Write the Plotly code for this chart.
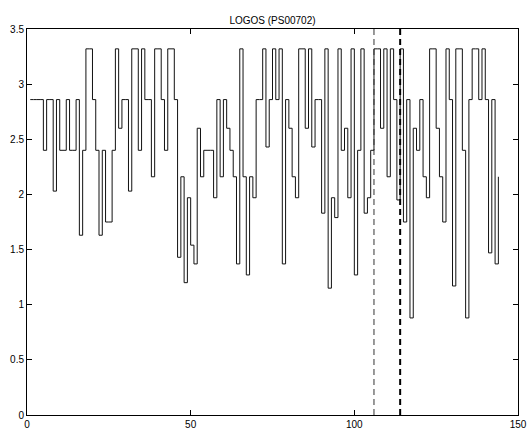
import plotly.graph_objects as go

# Positions along the sequence (1..144) and profile values (stairs)
positions = list(range(1, 145))
values = [
    2.86, 2.86, 2.86, 2.86, 2.40, 2.86, 2.86, 2.03, 2.86, 2.40,   # 1-10
    2.40, 2.86, 2.40, 2.40, 2.86, 1.63, 2.40, 3.32, 3.32, 2.86,   # 11-20
    2.40, 1.63, 2.40, 1.75, 1.75, 2.40, 3.32, 2.60, 2.86, 2.86,   # 21-30
    2.03, 3.32, 3.32, 2.40, 3.32, 2.86, 2.86, 2.16, 3.32, 3.32,   # 31-40
    2.86, 2.40, 3.32, 3.32, 2.86, 1.43, 2.16, 1.20, 1.97, 1.54,   # 41-50
    1.37, 2.60, 2.16, 2.40, 2.40, 2.40, 1.97, 2.86, 2.16, 2.86,   # 51-60
    2.60, 2.40, 2.16, 1.37, 3.32, 2.16, 1.27, 2.16, 1.97, 2.86,   # 61-70
    2.86, 3.32, 2.43, 2.86, 3.32, 2.86, 3.32, 1.37, 2.86, 2.60,   # 71-80
    2.16, 1.97, 3.32, 3.32, 2.60, 3.32, 2.43, 2.86, 2.86, 1.83,   # 81-90
    3.32, 1.15, 1.97, 1.79, 3.32, 2.40, 2.60, 1.97, 3.32, 1.27,   # 91-100
    2.40, 3.32, 1.83, 1.97, 2.40, 3.32, 3.32, 2.60, 3.32, 2.16,   # 101-110
    3.32, 2.86, 1.95, 3.32, 1.75, 2.86, 0.88, 2.60, 2.40, 2.86,   # 111-120
    2.16, 1.97, 3.32, 3.32, 2.60, 2.16, 1.75, 3.32, 2.86, 1.17,   # 121-130
    3.32, 3.32, 2.40, 0.88, 2.86, 3.32, 3.32, 2.86, 3.32, 2.86,   # 131-140
    1.47, 2.86, 1.37, 2.16,                                       # 141-144
]

# Vertical dashed markers
thin_marker_x = 106
thick_marker_x = 114
y_span = [0, 3.5]

x_ticks = [0, 50, 100, 150]
y_ticks = [0, 0.5, 1, 1.5, 2, 2.5, 3, 3.5]
y_tick_labels = ["0", "0.5", "1", "1.5", "2", "2.5", "3", "3.5"]

fig = go.Figure()
fig.add_trace(go.Scatter(
    x=positions, y=values, mode="lines", line_shape="hv",
    line=dict(color="#111111", width=1), showlegend=False, hoverinfo="skip",
))
fig.add_trace(go.Scatter(
    x=[thin_marker_x, thin_marker_x], y=y_span, mode="lines",
    line=dict(color="#333333", width=1, dash="6px,4px"), showlegend=False,
    hoverinfo="skip",
))
fig.add_trace(go.Scatter(
    x=[thick_marker_x, thick_marker_x], y=y_span, mode="lines",
    line=dict(color="black", width=2, dash="6px,4px"), showlegend=False,
    hoverinfo="skip",
))

axis_font = dict(family="Liberation Sans, Arial, sans-serif", size=10, color="black")

fig.update_layout(
    template="none",
    width=527, height=430,
    margin=dict(l=27, r=9, t=29, b=15, autoexpand=False),
    paper_bgcolor="white", plot_bgcolor="white",
    title=dict(text="LOGOS (PS00702)", x=0.5, xref="paper", y=1, yref="paper",
               yanchor="bottom", pad=dict(b=5),
               font=dict(family="Liberation Sans, Arial, sans-serif", size=10, color="black")),
    xaxis=dict(range=[0, 150], tickvals=x_ticks, ticktext=[str(v) for v in x_ticks],
               ticks="inside", ticklen=5, tickcolor="black", showline=True,
               linecolor="black", linewidth=1, mirror="ticks", showgrid=False,
               zeroline=False, tickfont=axis_font, automargin=False,
               ticklabeloverflow="allow"),
    yaxis=dict(range=[0, 3.5], tickvals=y_ticks, ticktext=y_tick_labels,
               ticks="inside", ticklen=5, tickcolor="black", showline=True,
               linecolor="black", linewidth=1, mirror="ticks", showgrid=False,
               zeroline=False, tickfont=axis_font, automargin=False,
               ticklabeloverflow="allow"),
)

# remove the default 8px page margin so the figure sits at the window origin
fig.write_html("out.html",
               config={"displayModeBar": False},
               post_script="document.body.style.margin='0';document.body.style.padding='0';")
